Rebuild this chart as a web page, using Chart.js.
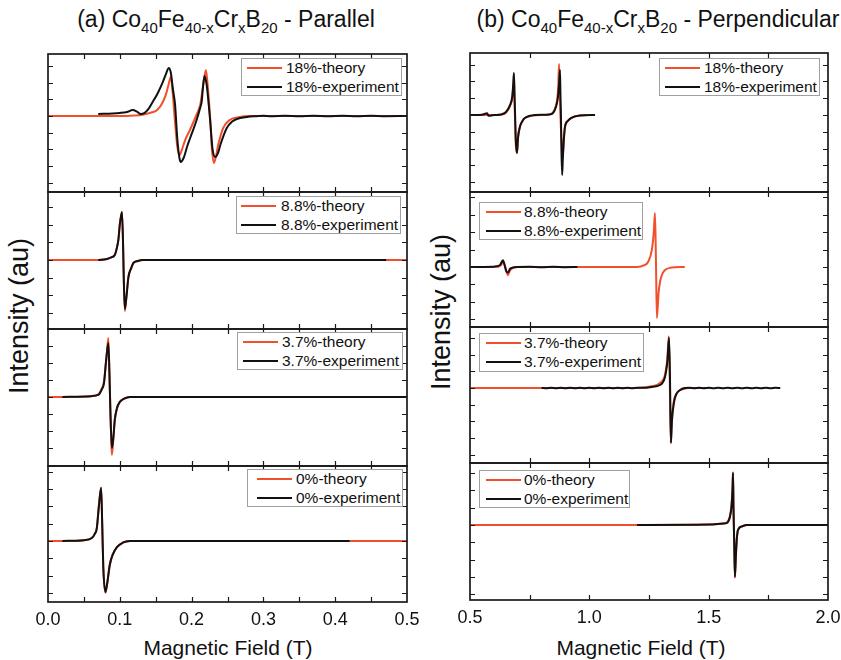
<!DOCTYPE html>
<html><head><meta charset="utf-8">
<script src="https://cdn.jsdelivr.net/npm/chart.js@4.4.1/dist/chart.umd.min.js"></script>
<style>
html,body{margin:0;padding:0;background:#fff;}
#stage{position:relative;width:841px;height:660px;overflow:hidden;background:#fff;font-family:"Liberation Sans",Arial,sans-serif;color:#111;}
canvas{position:absolute;}
.title{position:absolute;top:8px;width:440px;font-size:23px;line-height:23px;white-space:nowrap;text-align:center;}
.sub{font-size:15px;position:relative;top:6px;}
.xtitle{position:absolute;font-size:21px;line-height:21px;top:637px;white-space:nowrap;transform:translateX(-50%);}
.ytitle{position:absolute;font-size:27px;line-height:27px;white-space:nowrap;transform:translate(-50%,-50%) rotate(-90deg);}
.legend{position:absolute;border:1px solid #a0a0a0;background:#fff;box-sizing:border-box;}
.legend .ln{position:absolute;height:2px;width:35px;}
.legend .tx{position:absolute;font-size:15.5px;line-height:16px;white-space:nowrap;}
</style></head>
<body>
<div id="stage">
  <div class="title" style="left:6px">(a) Co<span class="sub">40</span>Fe<span class="sub">40-x</span>Cr<span class="sub">x</span>B<span class="sub">20</span> - Parallel</div>
  <div class="title" style="left:438px">(b) Co<span class="sub">40</span>Fe<span class="sub">40-x</span>Cr<span class="sub">x</span>B<span class="sub">20</span> - Perpendicular</div>
  <div class="ytitle" style="left:19px;top:316px">Intensity (au)</div>
  <div class="ytitle" style="left:441px;top:312px">Intensity (au)</div>
  <div class="xtitle" style="left:228px">Magnetic Field (T)</div>
  <div class="xtitle" style="left:641px">Magnetic Field (T)</div>
</div>
<script>
// ================= DATA =================
const compositions = ['18%', '8.8%', '3.7%', '0%'];
const seriesKinds = ['theory', 'experiment'];
const xTickLabelsPar = ['0.0', '0.1', '0.2', '0.3', '0.4', '0.5'];
const xTickLabelsPerp = ['0.5', '1.0', '1.5', '2.0'];

// Parallel geometry: [field (T), intensity (au)]
const par18Theory = [[0,0],[0.10,0],[0.12,0.03],[0.132,0.08],[0.145,0.22],[0.152,0.36],[0.160,0.84],[0.165,1.4],[0.168,1.9],[0.171,2.34],[0.174,1.2],[0.177,-0.4],[0.180,-1.8],[0.183,-2.34],[0.187,-1.95],[0.191,-1.44],[0.197,-0.9],[0.202,-0.42],[0.207,0.1],[0.212,0.66],[0.216,1.8],[0.220,2.75],[0.223,1.5],[0.226,-0.2],[0.228,-1.8],[0.231,-2.81],[0.234,-2.4],[0.237,-1.74],[0.244,-0.72],[0.253,-0.24],[0.267,-0.06],[0.28,0],[0.5,0]];
const par18Exp = [[0.070,0.12],[0.090,0.15],[0.100,0.18],[0.110,0.24],[0.118,0.36],[0.124,0.26],[0.129,0.12],[0.134,0.17],[0.140,0.42],[0.145,0.78],[0.153,1.38],[0.160,2.04],[0.165,2.6],[0.168,2.87],[0.171,2.6],[0.174,1.6],[0.177,0.66],[0.180,-1.32],[0.183,-2.5],[0.185,-2.75],[0.189,-2.5],[0.194,-1.8],[0.198,-1.32],[0.207,-0.24],[0.212,0.5],[0.214,0.84],[0.216,1.8],[0.218,2.4],[0.221,1.86],[0.224,0.6],[0.226,-0.36],[0.229,-1.92],[0.233,-2.46],[0.237,-2.2],[0.240,-1.74],[0.249,-0.72],[0.256,-0.35],[0.263,-0.18],[0.277,-0.06],[0.29,-0.01],[0.30,0.02],[0.31,-0.01],[0.33,0.02],[0.35,-0.01],[0.37,0.02],[0.39,-0.01],[0.41,0.02],[0.43,-0.01],[0.45,0.02],[0.47,-0.01],[0.50,0]];
const par88Theory = [[0,0],[0.07,0],[0.082,0.06],[0.088,0.15],[0.093,0.28],[0.096,0.7],[0.098,1.14],[0.100,2.0],[0.103,2.73],[0.1045,1.0],[0.1055,-1.0],[0.107,-2.9],[0.109,-2.2],[0.112,-0.97],[0.116,-0.45],[0.119,-0.17],[0.125,-0.06],[0.132,0],[0.5,0]];
const par88Exp = [[0.07,0],[0.082,0.06],[0.088,0.15],[0.093,0.28],[0.096,0.7],[0.098,1.14],[0.100,2.0],[0.103,2.73],[0.1045,1.0],[0.1055,-1.0],[0.107,-2.78],[0.109,-2.2],[0.112,-0.97],[0.116,-0.45],[0.119,-0.17],[0.125,-0.06],[0.132,0],[0.471,0]];
const par37Theory = [[0,0],[0.02,0],[0.06,0.05],[0.070,0.15],[0.075,0.5],[0.078,0.9],[0.080,1.7],[0.082,2.6],[0.084,3.47],[0.0855,1.5],[0.087,-1.0],[0.088,-2.5],[0.089,-3.41],[0.091,-2.5],[0.093,-1.35],[0.096,-0.7],[0.100,-0.29],[0.106,-0.1],[0.114,0],[0.5,0]];
const par37Exp = [[0.02,0],[0.06,0.05],[0.070,0.12],[0.075,0.45],[0.078,0.82],[0.081,2.18],[0.084,3.18],[0.0855,1.5],[0.087,-1.0],[0.089,-3.0],[0.091,-2.4],[0.093,-1.35],[0.096,-0.65],[0.100,-0.29],[0.106,-0.1],[0.114,0],[0.5,0]];
const par0Theory = [[0,0],[0.02,0],[0.05,0.05],[0.061,0.17],[0.065,0.4],[0.068,0.75],[0.071,2.08],[0.074,3.1],[0.0755,1.0],[0.077,-1.5],[0.080,-3.0],[0.083,-2.3],[0.086,-1.39],[0.090,-0.8],[0.096,-0.35],[0.104,-0.1],[0.114,0],[0.42,0],[0.5,0]];
const par0Exp = [[0.02,0],[0.05,0.05],[0.061,0.17],[0.065,0.4],[0.068,0.75],[0.071,2.08],[0.074,3.06],[0.0755,1.0],[0.077,-1.5],[0.080,-2.95],[0.083,-2.3],[0.086,-1.39],[0.090,-0.8],[0.096,-0.35],[0.104,-0.1],[0.114,0],[0.42,0]];

// Perpendicular geometry: [field (T), intensity (au)]
const perp18Theory = [[0.5,0],[0.63,0.02],[0.651,0.15],[0.668,0.55],[0.677,1.0],[0.682,1.8],[0.684,2.38],[0.6865,1.0],[0.689,-0.5],[0.692,-1.8],[0.697,-2.26],[0.701,-1.3],[0.709,-0.71],[0.72,-0.35],[0.730,-0.18],[0.76,-0.05],[0.80,0],[0.83,0.02],[0.848,0.15],[0.860,0.55],[0.866,1.0],[0.870,1.8],[0.873,3.04],[0.876,1.5],[0.880,-0.5],[0.885,-1.8],[0.889,-2.38],[0.893,-1.5],[0.898,-0.71],[0.91,-0.35],[0.923,-0.18],[0.95,-0.05],[0.99,0]];
const perp18Exp = [[0.5,0],[0.55,0.02],[0.572,0.1],[0.578,-0.05],[0.60,0],[0.63,0.03],[0.651,0.18],[0.668,0.6],[0.677,1.1],[0.682,2.0],[0.684,2.5],[0.6865,1.2],[0.689,0],[0.692,-1.5],[0.697,-2.26],[0.701,-1.4],[0.709,-0.71],[0.72,-0.35],[0.730,-0.18],[0.772,0],[0.83,0.03],[0.848,0.12],[0.860,0.48],[0.868,1.0],[0.873,1.8],[0.877,2.68],[0.879,1.2],[0.881,0],[0.883,-2.0],[0.886,-3.57],[0.889,-2.6],[0.893,-1.5],[0.898,-0.71],[0.91,-0.35],[0.923,-0.18],[0.96,-0.03],[1.024,0]];
const perp88Theory = [[0.5,0],[0.62,0.02],[0.632,0.15],[0.640,0.3],[0.648,0],[0.659,-0.47],[0.667,-0.2],[0.68,-0.05],[0.70,0],[1.20,0],[1.23,0.1],[1.246,0.29],[1.262,0.98],[1.270,2.0],[1.275,3.1],[1.279,0.5],[1.283,-2.93],[1.290,-1.5],[1.297,-0.8],[1.304,-0.46],[1.315,-0.2],[1.338,-0.05],[1.40,0]];
const perp88Exp = [[0.5,0],[0.60,0.02],[0.625,0.1],[0.638,0.39],[0.645,0.1],[0.652,-0.25],[0.659,-0.32],[0.668,-0.1],[0.68,-0.03],[0.70,0],[0.75,0.01],[0.80,-0.01],[0.85,0.01],[0.90,-0.01],[0.95,0]];
const perp37Theory = [[0.5,0],[1.20,0],[1.26,0.1],[1.296,0.3],[1.317,0.8],[1.327,1.8],[1.333,3.1],[1.337,0.5],[1.341,-3.27],[1.345,-2.0],[1.350,-1.2],[1.357,-0.6],[1.37,-0.25],[1.39,-0.08],[1.42,0],[1.5,0]];
const perp37Exp = [[0.80,0],[0.82,-0.02],[0.84,0.01],[0.86,-0.02],[0.88,0.01],[0.90,-0.01],[0.92,0.02],[0.94,-0.01],[0.96,0.01],[0.98,-0.02],[1.00,0.01],[1.02,-0.01],[1.04,0.02],[1.06,-0.01],[1.08,0.01],[1.10,-0.02],[1.12,0.01],[1.14,-0.01],[1.16,0.02],[1.18,-0.01],[1.20,0.02],[1.23,0.02],[1.26,0.06],[1.296,0.18],[1.317,0.66],[1.327,1.6],[1.334,3.0],[1.338,0.5],[1.342,-3.3],[1.346,-2.0],[1.355,-0.84],[1.365,-0.35],[1.38,-0.12],[1.40,0],[1.42,0.02],[1.44,-0.01],[1.46,0.02],[1.48,-0.01],[1.50,0.01],[1.52,-0.02],[1.54,0.01],[1.56,-0.01],[1.58,0.02],[1.60,-0.01],[1.62,0.01],[1.64,-0.02],[1.66,0.01],[1.68,-0.01],[1.70,0.02],[1.72,-0.01],[1.74,0.01],[1.76,-0.02],[1.78,0.01],[1.80,0]];
const perp0Theory = [[0.5,0],[1.20,0],[1.50,0.02],[1.56,0.08],[1.577,0.15],[1.589,0.5],[1.596,1.2],[1.600,2.2],[1.602,3.05],[1.604,1.0],[1.607,-1.0],[1.610,-3.06],[1.614,-1.8],[1.618,-0.8],[1.623,-0.29],[1.64,-0.08],[1.66,0],[2.0,0]];
const perp0Exp = [[1.20,0],[1.50,0.02],[1.56,0.08],[1.577,0.12],[1.589,0.46],[1.596,1.1],[1.600,2.1],[1.602,3.0],[1.604,1.0],[1.607,-1.0],[1.610,-3.0],[1.614,-1.8],[1.618,-0.8],[1.623,-0.29],[1.64,-0.08],[1.66,0],[2.0,0]];

// Axis ranges (tick units, au)
const xRangePar = [0, 0.5];
const xRangePerp = [0.5, 2.0];
const yRangesPar = [[-4.55, 3.71], [-3.92, 3.86], [-4.06, 4.0], [-3.53, 4.34]];
const yRangesPerp = [[-4.58, 3.69], [-3.45, 4.31], [-4.49, 3.65], [-4.34, 3.58]];

// ================= LAYOUT / STYLE =================
const RED = '#f2502c', BLACK = '#111111';
const cols = {
  par:  {left: 48,  right: 407, tops: [54, 192, 329, 466], bottom: 602, minorStep: 0.05, xr: xRangePar, labels: xTickLabelsPar, yr: yRangesPar,
         theory: [par18Theory, par88Theory, par37Theory, par0Theory], exp: [par18Exp, par88Exp, par37Exp, par0Exp],
         legends: [{l:241,t:58,w:161,h:38,ln:6,tx:45},{l:236,t:196,w:165,h:38,ln:5,tx:45},{l:237,t:332,w:166,h:38,ln:6,tx:45},{l:247,t:469,w:156,h:38,ln:10,tx:49}]},
  perp: {left: 470, right: 828, tops: [53, 192, 327, 463], bottom: 600, minorStep: 0.25, xr: xRangePerp, labels: xTickLabelsPerp, yr: yRangesPerp,
         theory: [perp18Theory, perp88Theory, perp37Theory, perp0Theory], exp: [perp18Exp, perp88Exp, perp37Exp, perp0Exp],
         legends: [{l:659,t:58,w:161,h:38,ln:6,tx:45},{l:479,t:202,w:164,h:38,ln:7,tx:45},{l:479,t:333,w:165,h:39,ln:7,tx:45},{l:479,t:470,w:151,h:38,ln:7,tx:45}]}
};

const framePlugin = {
  id: 'frame',
  afterDatasetsDraw(chart, args, opts) {
    const {ctx, chartArea: a, scales: {x, y}} = chart;
    ctx.save();
    ctx.strokeStyle = '#1a1a1a';
    ctx.lineWidth = 1.2;
    const L = 5;
    ctx.beginPath();
    for (const v of opts.xTicks) {
      const px = Math.round(x.getPixelForValue(v)) + 0.5;
      if (px <= a.left + 2 || px >= a.right - 2) continue;
      ctx.moveTo(px, a.top); ctx.lineTo(px, a.top + L);
      ctx.moveTo(px, a.bottom); ctx.lineTo(px, a.bottom - L);
    }
    for (const v of opts.yTicks) {
      const py = Math.round(y.getPixelForValue(v)) + 0.5;
      if (py <= a.top + 2 || py >= a.bottom - 2) continue;
      ctx.moveTo(a.left, py); ctx.lineTo(a.left + L, py);
      ctx.moveTo(a.right, py); ctx.lineTo(a.right - L, py);
    }
    ctx.stroke();
    ctx.lineWidth = 1.7;
    ctx.strokeRect(a.left, a.top, a.right - a.left, a.bottom - a.top);
    if (opts.labels) {
      ctx.fillStyle = '#111';
      ctx.font = '18px "Liberation Sans", Arial, sans-serif';
      ctx.textAlign = 'center';
      ctx.textBaseline = 'alphabetic';
      for (const t of opts.labels) {
        ctx.fillText(t, x.getPixelForValue(parseFloat(t)), a.bottom + 23);
      }
    }
    ctx.restore();
  }
};

const stage = document.getElementById('stage');
const toXY = arr => arr.map(p => ({x: p[0], y: p[1]}));

for (const key of ['par', 'perp']) {
  const c = cols[key];
  for (let r = 0; r < 4; r++) {
    const top = c.tops[r];
    const bottom = r < 3 ? c.tops[r + 1] : c.bottom;
    const PL = 16, PR = 16, PT = 3, PB = r === 3 ? 32 : 3;
    const cv = document.createElement('canvas');
    const w = c.right - c.left + PL + PR, h = bottom - top + PT + PB;
    cv.width = w; cv.height = h;
    cv.style.left = (c.left - PL) + 'px';
    cv.style.top = (top - PT) + 'px';
    cv.style.width = w + 'px'; cv.style.height = h + 'px';
    stage.appendChild(cv);

    const xTicks = [];
    for (let v = c.xr[0]; v <= c.xr[1] + 1e-9; v += c.minorStep) xTicks.push(+v.toFixed(3));
    const yTicks = [];
    for (let v = Math.ceil(c.yr[r][0]); v <= Math.floor(c.yr[r][1]); v++) yTicks.push(v);

    const label = compositions[r];
    new Chart(cv, {
      type: 'line',
      data: {
        datasets: [
          {label: label + '-' + seriesKinds[1], data: toXY(c.exp[r]), borderColor: BLACK, borderWidth: 2, pointRadius: 0, fill: false, cubicInterpolationMode: 'monotone'},
          {label: label + '-' + seriesKinds[0], data: toXY(c.theory[r]), borderColor: RED, borderWidth: 2, pointRadius: 0, fill: false, cubicInterpolationMode: 'monotone'}
        ]
      },
      options: {
        responsive: false, animation: false, devicePixelRatio: 1,
        layout: {padding: {left: PL, right: PR, top: PT, bottom: PB}},
        scales: {
          x: {type: 'linear', min: c.xr[0], max: c.xr[1], display: false},
          y: {type: 'linear', min: c.yr[r][0], max: c.yr[r][1], display: false}
        },
        plugins: {
          legend: {display: false}, tooltip: {enabled: false},
          frame: {xTicks, yTicks, labels: r === 3 ? c.labels : null}
        },
        events: []
      },
      plugins: [framePlugin]
    });

    // legend box (HTML text)
    const lg = c.legends[r];
    const box = document.createElement('div');
    box.className = 'legend';
    box.style.left = lg.l + 'px'; box.style.top = lg.t + 'px';
    box.style.width = lg.w + 'px'; box.style.height = lg.h + 'px';
    const rows = [[seriesKinds[0], RED], [seriesKinds[1], BLACK]];
    rows.forEach(([kind, col], i) => {
      const cy = 9 + i * 19;
      const ln = document.createElement('div');
      ln.className = 'ln';
      ln.style.background = col;
      ln.style.left = (lg.ln - 1) + 'px';
      ln.style.top = (cy - 1) + 'px';
      box.appendChild(ln);
      const tx = document.createElement('div');
      tx.className = 'tx';
      tx.textContent = label + '-' + kind;
      tx.style.left = (lg.tx - 1) + 'px';
      tx.style.top = (cy - 8) + 'px';
      box.appendChild(tx);
    });
    stage.appendChild(box);
  }
}
</script>
</body></html>
